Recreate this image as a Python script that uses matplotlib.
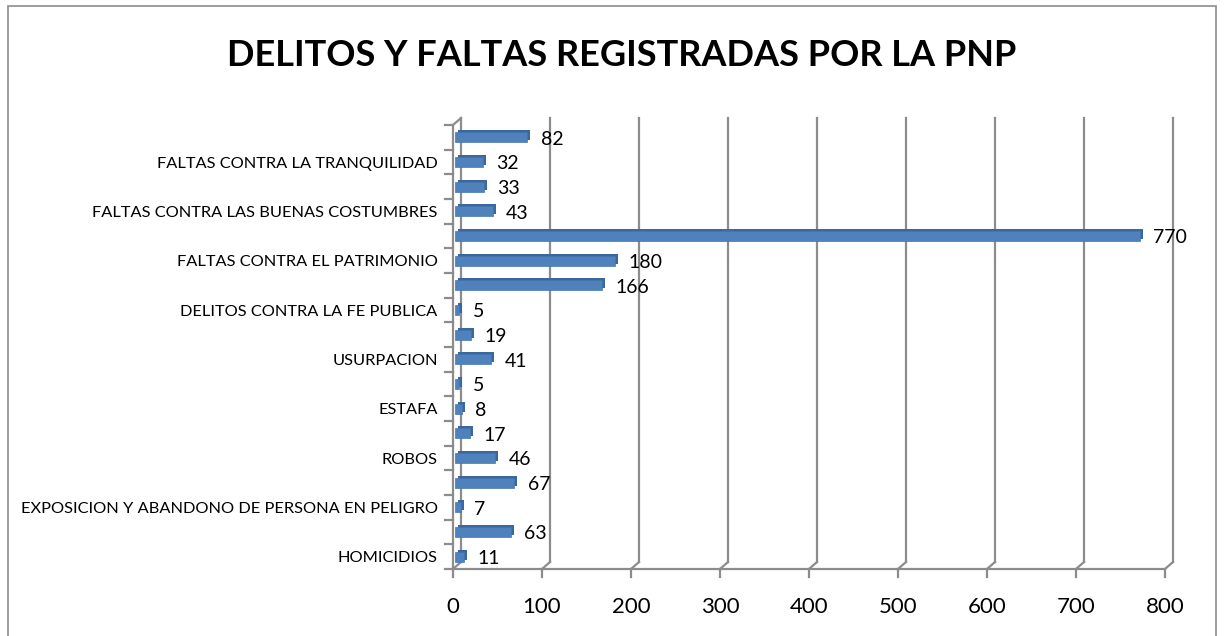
import matplotlib
matplotlib.use("Agg")
import matplotlib.pyplot as plt
from matplotlib.patches import Rectangle
from matplotlib.lines import Line2D

# ---- data (bottom to top) ----
categories = [
    "HOMICIDIOS", "", "EXPOSICION Y ABANDONO DE PERSONA EN PELIGRO", "",
    "ROBOS", "", "ESTAFA", "", "USURPACION", "",
    "DELITOS CONTRA LA FE PUBLICA", "", "FALTAS CONTRA EL PATRIMONIO", "",
    "FALTAS CONTRA LAS BUENAS COSTUMBRES", "", "FALTAS CONTRA LA TRANQUILIDAD", "",
]
values = [11, 63, 7, 67, 46, 17, 8, 5, 41, 19, 5, 166, 180, 770, 43, 33, 32, 82]
x_ticks = [0, 100, 200, 300, 400, 500, 600, 700, 800]
title = "DELITOS Y FALTAS REGISTRADAS POR LA PNP"

FONT = ["Lato", "DejaVu Sans"]
plt.rcParams["font.family"] = FONT

W, H = 1224, 636
fig = plt.figure(figsize=(W / 100, H / 100), dpi=100)

# outer chart border
fig.patches.append(Rectangle((8 / W, -0.01), (1216 - 8) / W, (636 - 6) / H + 0.01,
                             transform=fig.transFigure, fill=False,
                             edgecolor="#8c8c8c", linewidth=1.2))

fig.text(622 / W, 1 - 55 / H, title, ha="center", va="center",
         fontsize=26, fontweight="bold", color="black")

# front plot area
left_px, right_px, top_px, bot_px = 453, 1165, 125, 569
ax = fig.add_axes([left_px / W, 1 - bot_px / H, (right_px - left_px) / W,
                   (bot_px - top_px) / H])
n = len(values)
xmax = x_ticks[-1]
ax.set_xlim(0, xmax)
ax.set_ylim(0, n)
ax.set_facecolor("none")
for s in ax.spines.values():
    s.set_visible(False)

# depth offsets in data units (8 px right, 7 px up)
ppx = (right_px - left_px) / xmax
ppy = (bot_px - top_px) / n
dx = 8 / ppx
dy = 7 / ppy

gcol = "#8c8c8c"
lw = 1.6
# back wall gridlines
for t in x_ticks:
    ax.add_line(Line2D([t + dx, t + dx], [dy, n + dy], color=gcol, lw=lw,
                       clip_on=False, zorder=1))
    # floor diagonals
    ax.add_line(Line2D([t, t + dx], [0, dy], color=gcol, lw=lw,
                       clip_on=False, zorder=1))
    # tick marks below
    ax.add_line(Line2D([t, t], [0, -8 / ppy], color=gcol, lw=lw,
                       clip_on=False, zorder=1))
# front floor line
ax.add_line(Line2D([0, xmax], [0, 0], color=gcol, lw=lw, clip_on=False, zorder=1))
# left front axis
ax.add_line(Line2D([0, 0], [0, n], color=gcol, lw=lw, clip_on=False, zorder=1))
ax.add_line(Line2D([0, dx], [n, n + dy], color=gcol, lw=lw, clip_on=False, zorder=1))
for i in range(n + 1):
    ax.add_line(Line2D([0, -8 / ppx], [i, i], color=gcol, lw=lw,
                       clip_on=False, zorder=1))

# bars with a small 3D look
bh = 0.4
ys = [i + 0.5 for i in range(n)]
ddx = 3.0 / ppx
ddy = 2.0 / ppy
ax.barh([y + ddy for y in ys], values, height=bh, left=[1.5 / ppx + ddx] * n,
        color="#3a679c", zorder=3)
ax.barh(ys, values, height=bh, left=[1.5 / ppx] * n, color="#4f81bd",
        edgecolor="#4675ad", linewidth=0.5, zorder=4)

for y, v in zip(ys, values):
    ax.text(v + 15 / ppx, y - 0.08, str(v), ha="left", va="center",
            fontsize=14, color="black", zorder=5)

ax.set_yticks(ys)
ax.set_yticklabels(categories, fontsize=11.8)
ax.set_xticks(x_ticks)
ax.set_xticklabels([str(t) for t in x_ticks], fontsize=16)
ax.tick_params(axis="both", length=0)
ax.tick_params(axis="y", pad=11)
ax.tick_params(axis="x", pad=20)

fig.savefig("out.png", dpi=100)
